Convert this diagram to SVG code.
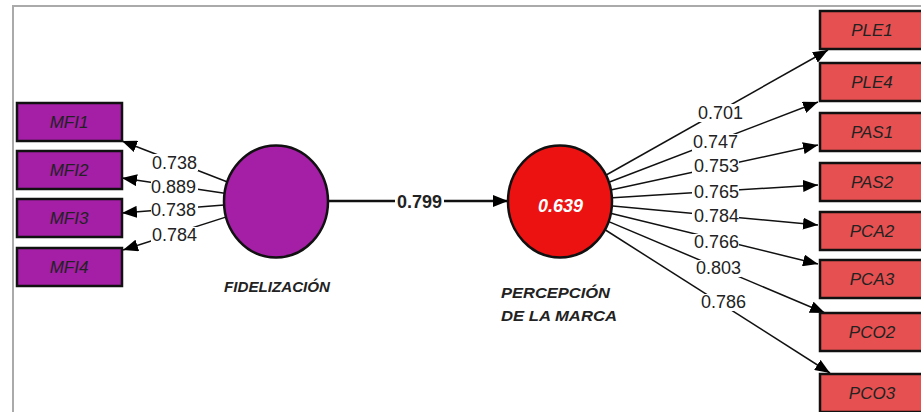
<svg xmlns="http://www.w3.org/2000/svg" width="921" height="412" viewBox="0 0 921 412">
<defs>
<marker id="ah" markerUnits="userSpaceOnUse" markerWidth="16" markerHeight="12" refX="15" refY="6" orient="auto">
<path d="M0,0 L15,6 L0,12 Z" fill="#000"/>
</marker>
<style>
.ind{stroke:#111;stroke-width:2.5}
.mfi{fill:#A41EA6}
.per{fill:#E65050}
.nt{font-family:"Liberation Sans",Arial,sans-serif;font-style:italic;font-size:17px;fill:#222;text-anchor:middle}
.lv{font-family:"Liberation Sans",Arial,sans-serif;font-style:italic;font-weight:bold;font-size:15px;fill:#222}
.ld{font-family:"Liberation Sans",Arial,sans-serif;font-size:18px;fill:#222}
.lb{fill:#fff}
.cn{stroke:#111;stroke-width:1.5;fill:none}
</style>
</defs>
<rect width="921" height="412" fill="#fff"/>
<path d="M13,412 V6 H921" fill="none" stroke="#aaa" stroke-width="2"/>

<g id="connectors">
<line class="cn" x1="227.5" y1="182" x2="122" y2="141" marker-end="url(#ah)"/>
<line class="cn" x1="224.6" y1="193.3" x2="122" y2="178" marker-end="url(#ah)"/>
<line class="cn" x1="224.2" y1="205" x2="122" y2="213" marker-end="url(#ah)"/>
<line class="cn" x1="226.5" y1="216.9" x2="123" y2="250" marker-end="url(#ah)"/>
<line x1="328" y1="201" x2="508" y2="201" stroke="#111" stroke-width="2.5" marker-end="url(#ah)"/>
<line class="cn" x1="606.2" y1="175" x2="828" y2="50" marker-end="url(#ah)"/>
<line class="cn" x1="609.5" y1="182" x2="818" y2="102" marker-end="url(#ah)"/>
<line class="cn" x1="611.8" y1="189.8" x2="818" y2="145" marker-end="url(#ah)"/>
<line class="cn" x1="612.9" y1="197.7" x2="818" y2="185" marker-end="url(#ah)"/>
<line class="cn" x1="612.8" y1="205.9" x2="818" y2="225" marker-end="url(#ah)"/>
<line class="cn" x1="611.5" y1="213.6" x2="818" y2="264" marker-end="url(#ah)"/>
<line class="cn" x1="608.8" y1="221.6" x2="825" y2="313" marker-end="url(#ah)"/>
<line class="cn" x1="604.7" y1="229.5" x2="830" y2="373" marker-end="url(#ah)"/>

<rect class="lb" x="151" y="154" width="47" height="17"/>
<text class="ld" x="152" y="169" textLength="45" lengthAdjust="spacingAndGlyphs">0.738</text>
<rect class="lb" x="151" y="179" width="47" height="16"/>
<text class="ld" x="151" y="193" textLength="45" lengthAdjust="spacingAndGlyphs">0.889</text>
<rect class="lb" x="151" y="203" width="47" height="15"/>
<text class="ld" x="151" y="216" textLength="45" lengthAdjust="spacingAndGlyphs">0.738</text>
<rect class="lb" x="151" y="227" width="47" height="16"/>
<text class="ld" x="152" y="241" textLength="45" lengthAdjust="spacingAndGlyphs">0.784</text>

<rect class="lb" x="395" y="192" width="49" height="18"/>
<text class="ld" x="397" y="208" font-weight="bold" textLength="45" lengthAdjust="spacingAndGlyphs">0.799</text>

<rect class="lb" x="697" y="104" width="47" height="18"/>
<text class="ld" x="698" y="119" textLength="45" lengthAdjust="spacingAndGlyphs">0.701</text>
<rect class="lb" x="692" y="134" width="47" height="17"/>
<text class="ld" x="693" y="148" textLength="45" lengthAdjust="spacingAndGlyphs">0.747</text>
<rect class="lb" x="692" y="159" width="47" height="15"/>
<text class="ld" x="694" y="172" textLength="45" lengthAdjust="spacingAndGlyphs">0.753</text>
<rect class="lb" x="692" y="184" width="47" height="15"/>
<text class="ld" x="694" y="198" textLength="45" lengthAdjust="spacingAndGlyphs">0.765</text>
<rect class="lb" x="692" y="208" width="47" height="16"/>
<text class="ld" x="694" y="222" textLength="45" lengthAdjust="spacingAndGlyphs">0.784</text>
<rect class="lb" x="692" y="234" width="47" height="16"/>
<text class="ld" x="694" y="248" textLength="45" lengthAdjust="spacingAndGlyphs">0.766</text>
<rect class="lb" x="694" y="260" width="47" height="17"/>
<text class="ld" x="696" y="274" textLength="45" lengthAdjust="spacingAndGlyphs">0.803</text>
<rect class="lb" x="700" y="294" width="47" height="17"/>
<text class="ld" x="701" y="308" textLength="45" lengthAdjust="spacingAndGlyphs">0.786</text>
</g>

<g id="MFI1"><rect class="mfi ind" x="17" y="103" width="105" height="38"/><text class="nt" x="69" y="128">MFI1</text></g>
<g id="MFI2"><rect class="mfi ind" x="17" y="151" width="105" height="38"/><text class="nt" x="69" y="176">MFI2</text></g>
<g id="MFI3"><rect class="mfi ind" x="17" y="199" width="105" height="38"/><text class="nt" x="69" y="224">MFI3</text></g>
<g id="MFI4"><rect class="mfi ind" x="17" y="248" width="105" height="38"/><text class="nt" x="69" y="273">MFI4</text></g>

<g id="FIDELIZACION">
<ellipse cx="276" cy="201.5" rx="52" ry="56" fill="#A41EA6" stroke="#111" stroke-width="2.5"/>
<text class="lv" x="224" y="292" textLength="106" lengthAdjust="spacingAndGlyphs">FIDELIZACIÓN</text>
</g>

<g id="PERCEPCION">
<ellipse cx="560" cy="201.5" rx="52" ry="56" fill="#EC1212" stroke="#111" stroke-width="2.5"/>
<text x="538" y="212" font-family="'Liberation Sans',Arial,sans-serif" font-size="19" font-weight="bold" font-style="italic" fill="#fff" textLength="45" lengthAdjust="spacingAndGlyphs">0.639</text>
<text class="lv" x="501" y="298" textLength="109" lengthAdjust="spacingAndGlyphs">PERCEPCIÓN</text>
<text class="lv" x="501" y="321" textLength="116" lengthAdjust="spacingAndGlyphs">DE LA MARCA</text>
</g>

<g id="PLE1"><rect class="per ind" x="820" y="11" width="106" height="38"/><text class="nt" x="872" y="36">PLE1</text></g>
<g id="PLE4"><rect class="per ind" x="820" y="63" width="106" height="38"/><text class="nt" x="872" y="88">PLE4</text></g>
<g id="PAS1"><rect class="per ind" x="820" y="113" width="106" height="38"/><text class="nt" x="872" y="138">PAS1</text></g>
<g id="PAS2"><rect class="per ind" x="820" y="163" width="106" height="38"/><text class="nt" x="872" y="188">PAS2</text></g>
<g id="PCA2"><rect class="per ind" x="820" y="212" width="106" height="38"/><text class="nt" x="872" y="237">PCA2</text></g>
<g id="PCA3"><rect class="per ind" x="820" y="260" width="106" height="38"/><text class="nt" x="872" y="285">PCA3</text></g>
<g id="PCO2"><rect class="per ind" x="820" y="313" width="106" height="38"/><text class="nt" x="872" y="338">PCO2</text></g>
<g id="PCO3"><rect class="per ind" x="820" y="374" width="106" height="38"/><text class="nt" x="872" y="399">PCO3</text></g>
</svg>
